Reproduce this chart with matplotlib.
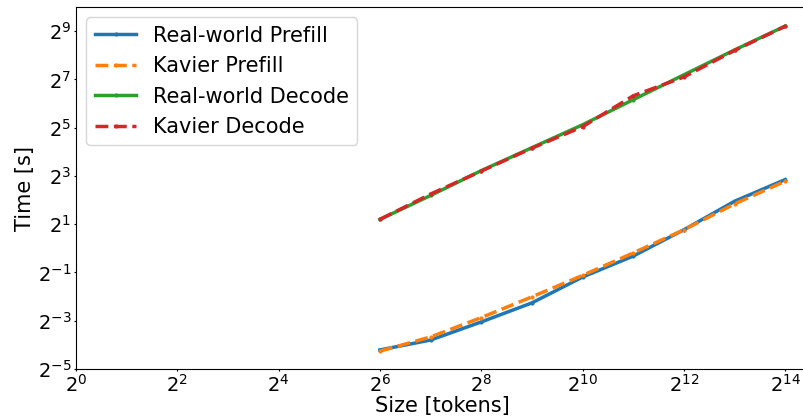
import matplotlib
matplotlib.use('Agg')
import matplotlib.pyplot as plt
import numpy as np

# exponents of the prompt size (tokens = 2**k)
size_exp = [6, 7, 8, 9, 10, 11, 12, 13, 14]

# log2 of time [s]
real_prefill_exp = [-4.21, -3.80, -3.05, -2.26, -1.19, -0.32, 0.77, 1.95, 2.85]
kavier_prefill_exp = [-4.26, -3.67, -2.87, -2.01, -1.12, -0.19, 0.77, 1.84, 2.78]
real_decode_exp = [1.20, 2.19, 3.22, 4.17, 5.12, 6.16, 7.19, 8.22, 9.21]
kavier_decode_exp = [1.20, 2.25, 3.20, 4.15, 5.04, 6.32, 7.10, 8.20, 9.20]

sizes = np.power(2.0, size_exp)

fig = plt.figure(figsize=(8.04, 4.17), dpi=100)
ax = fig.add_axes([76 / 804, 1 - 369 / 417, 732 / 804, 362 / 417])

lw = 2.5
ax.plot(sizes, np.power(2.0, real_prefill_exp), color='tab:blue', linestyle='-',
        marker='.', markersize=4, linewidth=lw, label='Real-world Prefill')
ax.plot(sizes, np.power(2.0, kavier_prefill_exp), color='tab:orange', linestyle='--',
        marker='.', markersize=4, linewidth=lw, label='Kavier Prefill')
ax.plot(sizes, np.power(2.0, real_decode_exp), color='tab:green', linestyle='-',
        marker='.', markersize=4, linewidth=lw, label='Real-world Decode')
ax.plot(sizes, np.power(2.0, kavier_decode_exp), color='tab:red', linestyle='--',
        marker='.', markersize=4, linewidth=lw, label='Kavier Decode')

ax.set_xscale('log', base=2)
ax.set_yscale('log', base=2)
ax.set_xlim(1, 2 ** 14.45)
ax.set_ylim(2 ** -5, 2 ** 10)
ax.set_xticks(np.power(2.0, np.arange(0, 15, 2)))
ax.set_yticks(np.power(2.0, np.arange(-5, 10, 2)))
ax.minorticks_off()
ax.tick_params(labelsize=14, length=1.5, pad=2)

ax.set_xlabel('Size [tokens]', fontsize=15, labelpad=0)
ax.set_ylabel('Time [s]', fontsize=15, labelpad=2)
ax.legend(loc='upper left', fontsize=15)

fig.savefig('out.png', dpi=100)
